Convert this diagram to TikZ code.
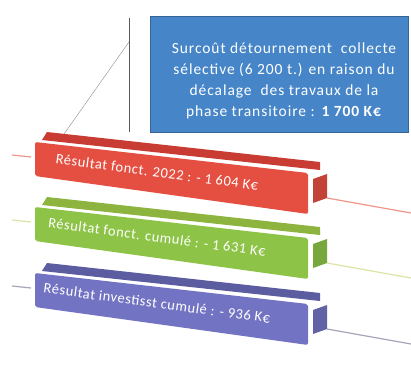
\documentclass[tikz,border=0pt]{standalone}
\usepackage{fontspec}
\setmainfont{Carlito}
\usetikzlibrary{calc}
\definecolor{boxblue}{RGB}{70,134,200}
\definecolor{barred}{RGB}{229,79,66}
\definecolor{barredback}{RGB}{200,60,52}
\definecolor{barredline}{RGB}{238,150,138}
\definecolor{bargreen}{RGB}{141,196,72}
\definecolor{bargreenback}{RGB}{140,180,62}
\definecolor{bargreenline}{RGB}{218,228,165}
\definecolor{barviolet}{RGB}{115,115,195}
\definecolor{barvioletback}{RGB}{92,92,160}
\definecolor{barvioletline}{RGB}{165,165,185}

\begin{document}
\begin{tikzpicture}[x=1pt,y=-1pt,font=\fontsize{14.5}{16}\selectfont\addfontfeature{LetterSpace=4}]
\useasboundingbox (0,0) rectangle (411,373);
% callout box and its leader
\node[fill=boxblue,draw=boxblue!75!black,minimum width=258pt,minimum height=116pt] (cost) at (279,74) {};
\node[align=center,text=white,inner sep=0pt,
      font=\fontsize{15.5}{21}\selectfont\addfontfeature{LetterSpace=6}] (costtext) at (284,81)
  {Surcoût détournement\ \ collecte\\ sélective (6 200 t.) en raison du\\
   décalage\ \ des travaux de la\\ phase transitoire : \textbf{1 700 K€}};
\coordinate (postTop) at (129,18);
\coordinate (postBot) at (129,132);
\coordinate (legFoot) at (64,134);
\draw[black!65] (postTop) -- (postBot);           % post
\draw[black!45] ($(postTop)!0.21!(postBot)$) -- (legFoot); % leg
% the three bars
\foreach \dy/\front/\back/\trail/\txt [count=\i] in
  {0/barred/barredback/barredline/{Résultat fonct. 2022 : - 1 604 K€},
   65/bargreen/bargreenback/bargreenline/{Résultat fonct. cumulé : - 1 631 K€},
   131/barviolet/barvioletback/barvioletline/{Résultat investisst cumulé : - 936 K€}}
{
  \begin{scope}[shift={(0,\dy)}]
    \fill[\back] (47,132) -- (320,162) -- (320,170) -- (42,140) -- cycle;       % top strip
    \fill[\front,rounded corners=2pt] (35,142) -- (308,173) -- (308,214) -- (35,176) -- cycle; % face
    \fill[\front!85!black] (313,179) -- (327,174) -- (327,198) -- (313,203) -- cycle; % end
    \draw[\trail,line width=1.2pt] (327,198) -- (411,213);                     % trail right
    \draw[\trail,line width=1.2pt] (12,155) -- (31,157);                       % trail left
    \node[text=white,rotate=-7.6,inner sep=0pt] (bar\i) at (157,172) {\txt};
  \end{scope}
}
\end{tikzpicture}
\end{document}
